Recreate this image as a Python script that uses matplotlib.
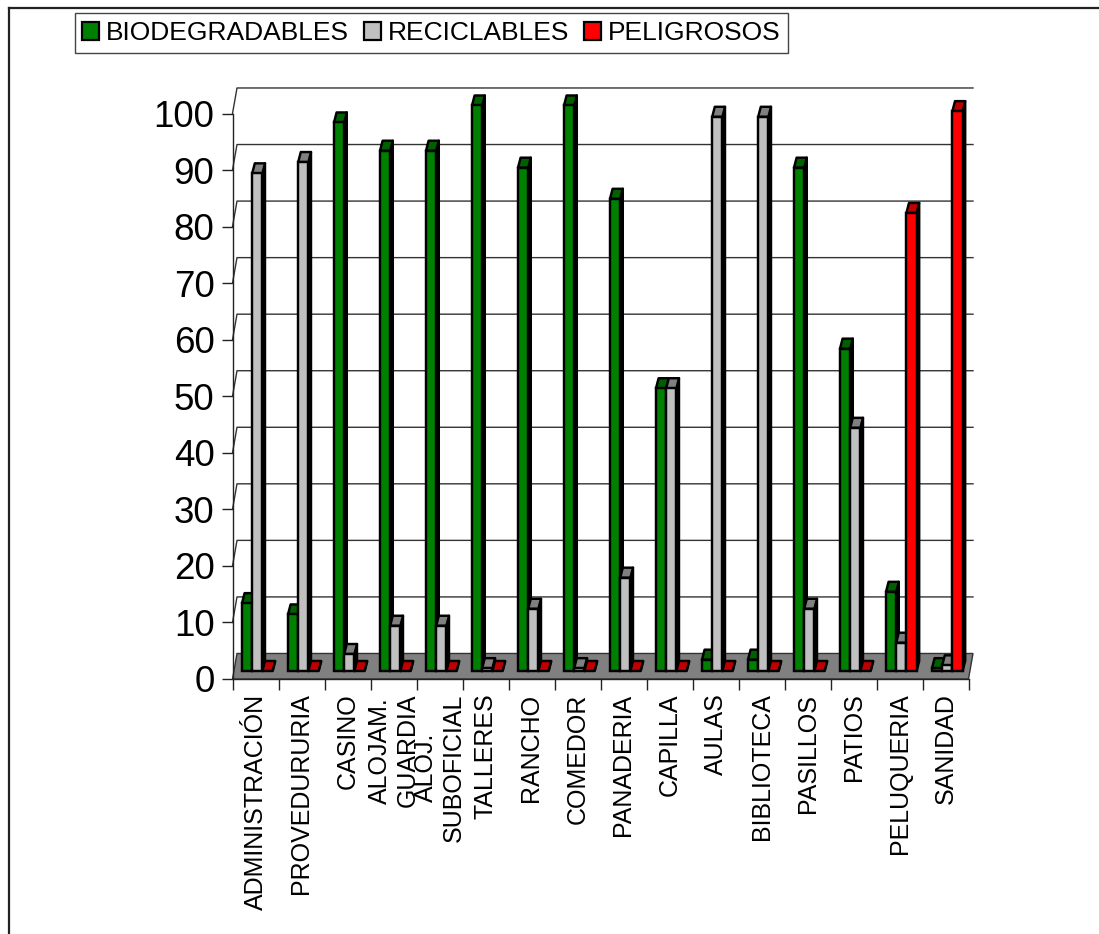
import matplotlib

matplotlib.use("Agg")
import matplotlib.pyplot as plt
from matplotlib.lines import Line2D
from matplotlib.patches import Patch, Polygon

plt.rcParams["font.family"] = ["Liberation Sans", "DejaVu Sans"]

categories = [
    "ADMINISTRACIÓN", "PROVEDURURIA", "CASINO", "ALOJAM.\nGUARDIA", "ALOJ.\nSUBOFICIAL",
    "TALLERES", "RANCHO", "COMEDOR", "PANADERIA", "CAPILLA", "AULAS", "BIBLIOTECA",
    "PASILLOS", "PATIOS", "PELUQUERIA", "SANIDAD",
]
biodegradables = [12, 10, 97, 92, 92, 100, 89, 100, 83.5, 50, 2, 2, 89, 57, 14, 0.5]
reciclables = [88, 90, 3, 8, 8, 0.5, 11, 0.5, 16.5, 50, 98, 98, 11, 43, 5, 1]
peligrosos = [0, 0, 0, 0, 0, 0, 0, 0, 0, 0, 0, 0, 0, 0, 81, 99]
yticks = list(range(0, 101, 10))

W, H = 1099, 934

# pseudo-3D geometry, in data units (x: one category = 46 px, y: 1 unit = 5.65 px)
WALL_DX = 4.5 / 46
WALL_DY = 25.5 / 5.65
BAR_LEFT = 9.5 / 46
BAR_W = 10.2 / 46
BAR_BASE = 8.0 / 5.65
BAR_DX = 2.6 / 46
BAR_DY = 10.0 / 5.65
BAR_LW = 1.75

series = [
    ("BIODEGRADABLES", biodegradables, "#008000", "#006000"),
    ("RECICLABLES", reciclables, "#c0c0c0", "#808080"),
    ("PELIGROSOS", peligrosos, "#ff0000", "#c00000"),
]


def draw_bar(ax, x, value, face, dark, z):
    y0 = BAR_BASE
    y1 = BAR_BASE + value
    edge = dict(edgecolor="black", linewidth=BAR_LW, clip_on=False, joinstyle="round", zorder=z)
    side = [(x + BAR_W, y0), (x + BAR_W + BAR_DX, y0 + BAR_DY), (x + BAR_W + BAR_DX, y1 + BAR_DY), (x + BAR_W, y1)]
    top = [(x, y1), (x + BAR_DX, y1 + BAR_DY), (x + BAR_W + BAR_DX, y1 + BAR_DY), (x + BAR_W, y1)]
    ax.add_patch(Polygon(side, facecolor="#000000", **edge))
    ax.add_patch(Polygon(top, facecolor=dark, **edge))
    if value > 0:
        ax.bar(x, value, BAR_W, bottom=y0, align="edge", color=face, clip_on=False, zorder=z,
               edgecolor="black", linewidth=BAR_LW)


def main():
    fig = plt.figure(figsize=(W / 100, H / 100), dpi=100)
    ax = fig.add_axes([232.5 / W, 1 - 679 / H, 736 / W, 565.5 / H])
    ax.set_xlim(0, len(categories))
    ax.set_ylim(0, 100)
    ax.patch.set_visible(False)

    # outer frame runs off the top-right and bottom of the canvas
    frame = dict(color="#222222", linewidth=1.6, transform=fig.transFigure)
    fig.add_artist(Line2D([8.5 / W, 8.5 / W], [0, 1 - 8 / H], **frame))
    fig.add_artist(Line2D([8.5 / W, 1], [1 - 8 / H, 1 - 8 / H], **frame))

    # floor and back-wall gridlines
    n = len(categories)
    floor = [(0, 0), (n, 0), (n + WALL_DX, WALL_DY), (WALL_DX, WALL_DY)]
    ax.add_patch(Polygon(floor, facecolor="#808080", edgecolor="#333333", linewidth=1.0, clip_on=False, zorder=1))
    for t in yticks[1:]:
        ax.plot([0, WALL_DX, n + WALL_DX], [t, t + WALL_DY, t + WALL_DY], color="#333333",
                linewidth=1.0, clip_on=False, zorder=1)

    for i in range(n):
        for j, (_, values, face, dark) in enumerate(series):
            draw_bar(ax, i + BAR_LEFT + j * BAR_W, values[i], face, dark, 3 + i + j * 0.1)

    for name in ["top", "right"]:
        ax.spines[name].set_visible(False)
    ax.spines["bottom"].set_zorder(2)
    for name in ["left", "bottom"]:
        ax.spines[name].set_linewidth(1.0)
        ax.spines[name].set_color("#222222")

    ax.set_yticks(yticks)
    ax.tick_params(axis="y", length=8, width=1.0, color="#222222", labelsize=26.5, pad=5)
    ax.set_xticks(range(n + 1))
    ax.set_xticklabels([])
    ax.tick_params(axis="x", length=8, width=1.0, color="#222222")

    for i, label in enumerate(categories):
        ax.annotate(label, xy=(i + 0.5, 0), xycoords=("data", "axes fraction"), xytext=(0, -10.5),
                    textcoords="offset points", rotation=90, ha="center", va="top",
                    multialignment="center", fontsize=18, linespacing=1.2, color="black")

    handles = [Patch(facecolor=face, edgecolor="black", linewidth=1.6, label=name) for name, _, face, _ in series]
    fig.legend(handles=handles, loc="upper left", bbox_to_anchor=(74.5 / W, 1 - 13.5 / H), ncols=3,
               fontsize=19, frameon=True, fancybox=False, edgecolor="#444444", framealpha=1,
               borderpad=0.29, borderaxespad=0, handlelength=0.64, handleheight=0.64,
               handletextpad=0.27, columnspacing=0.56)

    fig.savefig("out.png", dpi=100)
    plt.close(fig)


if __name__ == "__main__":
    main()
